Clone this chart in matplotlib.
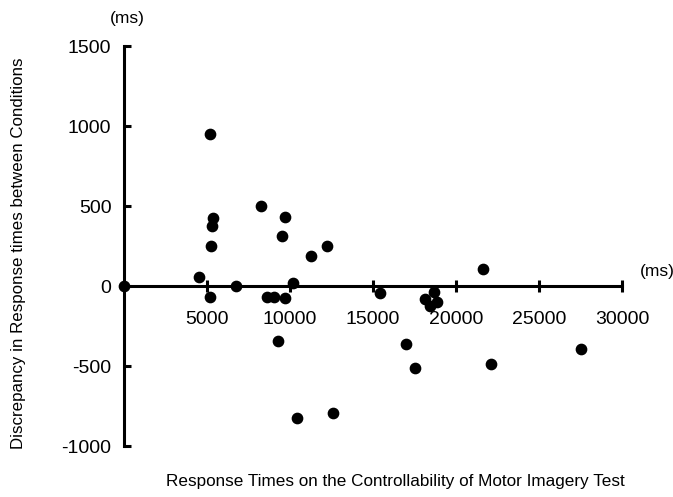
import matplotlib
matplotlib.use('Agg')
import matplotlib.pyplot as plt

plt.rcParams['font.family'] = ['Liberation Sans', 'DejaVu Sans']

# response times (ms) and discrepancy between conditions (ms)
rt = [0, 4515, 5177, 5240, 5317, 5377, 5177, 6742, 8267, 8590, 9050, 9250,
      9494, 9692, 9712, 10154, 10415, 11238, 12240, 12600, 15411, 17017,
      17518, 18120, 18463, 18680, 18885, 21630, 22135, 27553]
diff = [0, 54, 951, 251, 378, 428, -67, 2, 503, -67, -67, -341,
        311, -73, 432, 21, -824, 187, 251, -793, -42, -360,
        -513, -81, -125, -39, -102, 104, -488, -394]

x_ticks = [5000, 10000, 15000, 20000, 25000, 30000]
y_ticks = [-1000, -500, 0, 500, 1000, 1500]

fig = plt.figure(figsize=(6.73, 4.97), dpi=100)
ax = fig.add_axes([0.1768, 0.0865, 0.7548, 0.8402])

ax.scatter(rt, diff, s=55, color='black', zorder=3, clip_on=False)

ax.set_xlim(-300, 30300)
ax.set_ylim(-1050, 1560)

# axes cross at the origin
ax.spines['left'].set_position(('data', 0))
ax.spines['bottom'].set_position(('data', 0))
ax.spines['left'].set_bounds(-1000, 1500)
ax.spines['bottom'].set_bounds(0, 30000)
ax.spines['top'].set_visible(False)
ax.spines['right'].set_visible(False)
for sp in ['left', 'bottom']:
    ax.spines[sp].set_linewidth(2.2)

ax.set_xticks(x_ticks)
ax.set_xticklabels([str(v) for v in x_ticks])
ax.set_yticks(y_ticks)
ax.set_yticklabels([str(v) for v in y_ticks])
ax.tick_params(axis='x', direction='inout', length=8, width=2.2, pad=14, labelsize=14)
ax.tick_params(axis='y', direction='in', length=5, width=2.2, pad=9, labelsize=14)

fig.text(0.189, 0.963, '(ms)', ha='center', va='center', fontsize=12.5)
fig.text(0.976, 0.453, '(ms)', ha='center', va='center', fontsize=12.5)

fig.text(0.587, 0.032, 'Response Times on the Controllability of Motor Imagery Test',
         ha='center', va='center', fontsize=12.3)
fig.text(0.027, 0.491, 'Discrepancy in Response times between Conditions',
         ha='center', va='center', rotation=90, fontsize=12.2)

fig.savefig('out.png', dpi=100)
